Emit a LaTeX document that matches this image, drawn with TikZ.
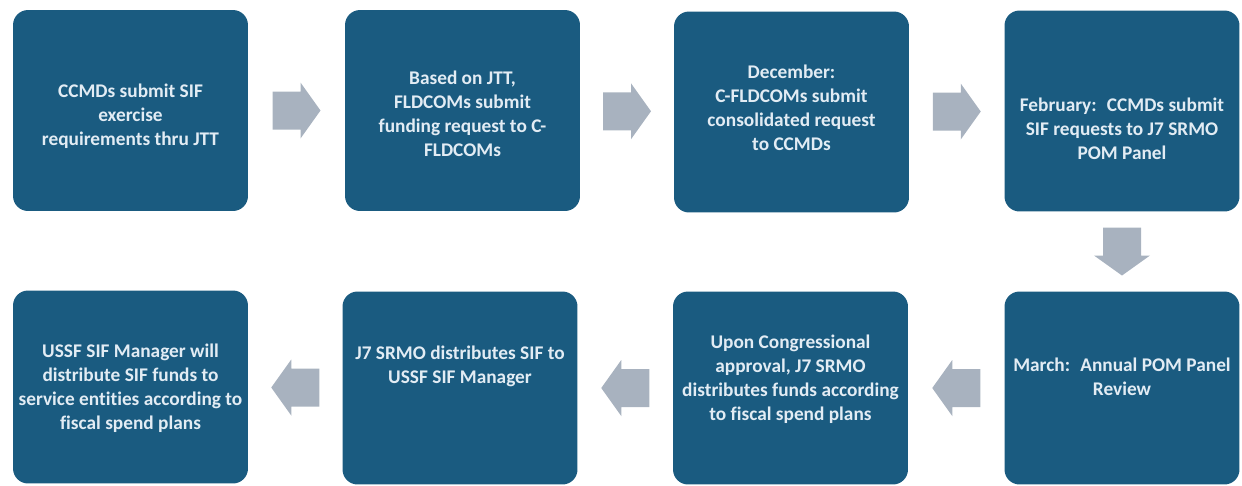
\documentclass[tikz,border=0pt]{standalone}
\usepackage{fontspec}
\setmainfont{Carlito}[Ligatures=NoCommon]
\usepackage{xcolor}
\usetikzlibrary{
    calc,
    positioning
}
\definecolor{boxblue}{RGB}{26,91,128}
\definecolor{arrowgrey}{RGB}{168,178,191}
\definecolor{boxtext}{RGB}{226,236,244}

\tikzset{
    stepbox/.style={rectangle, rounded corners=0.3cm, fill=boxblue, inner sep=0pt,
        minimum width=4.7cm, minimum height=4.02cm},
    lowbox/.style={minimum height=3.86cm},
    steptext/.style={text=boxtext, align=center, inner sep=0pt,
        font=\bfseries\fontsize{11}{13.6}\selectfont},
    blockarr/.pic={
        \fill[arrowgrey] (-24,-19) -- (4,-19) -- (4,-28) -- (24,0)
            -- (4,28) -- (4,19) -- (-24,19) -- cycle;
    }
}

\begin{document}
\begin{tikzpicture}[x=0.02cm, y=0.02cm]
    \useasboundingbox (0,0) rectangle (1242,-485);

    % top row
    \node[stepbox] (s1) at (130.5,-110.5) {};
    \node[stepbox] (s2) at (462.5,-110.5) {};
    \node[stepbox] (s3) at (791.5,-112) {};
    \node[stepbox] (s4) at (1122,-111) {};

    % bottom row
    \node[stepbox, lowbox] (s5) at (1122,-388) {};
    \node[stepbox, lowbox] (s6) at (790.5,-388) {};
    \node[stepbox, lowbox] (s7) at (460,-388) {};
    \node[stepbox, lowbox] (s8) at (130.5,-387) {};

    \node[steptext] (t1) at (130.5,-116) {CCMDs submit SIF\\exercise\\requirements thru JTT};
    \node[steptext] (t2) at (462.5,-114) {Based on JTT,\\FLDCOMs submit\\funding request to C-\\FLDCOMs};
    \node[steptext] (t3) at (791.5,-108) {December:\\C-FLDCOMs submit\\consolidated request\\to CCMDs};
    \node[steptext] (t4) at (1122,-129) {February:~ CCMDs submit\\SIF requests to J7 SRMO\\POM Panel};
    \node[steptext] (t5) at (1122,-377) {March:~ Annual POM Panel\\Review};
    \node[steptext] (t6) at (790.5,-379) {Upon Congressional\\approval, J7 SRMO\\distributes funds according\\to fiscal spend plans};
    \node[steptext] (t7) at (460,-366) {J7 SRMO distributes SIF to\\USSF SIF Manager};
    \node[steptext] (t8) at (130.5,-388) {USSF SIF Manager will\\distribute SIF funds to\\service entities according to\\fiscal spend plans};

    % block arrows between the steps
    \coordinate (a1) at ($(s1.east)!0.5!(s2.west)$);
    \coordinate (a2) at ($(s2.east)!0.5!(s3.west)$);
    \coordinate (a3) at ($(s3.east)!0.5!(s4.west)$);
    \coordinate (a4) at ($(s4.south)!0.5!(s5.north)$);
    \coordinate (a5) at ($(s5.west)!0.5!(s6.east)$);
    \coordinate (a6) at ($(s6.west)!0.5!(s7.east)$);
    \coordinate (a7) at ($(s7.west)!0.5!(s8.east)$);

    \pic at (a1) {blockarr};
    \pic at (a2) {blockarr};
    \pic at (a3) {blockarr};
    \pic[rotate=-90] at (a4) {blockarr};
    \pic[rotate=180] at (a5) {blockarr};
    \pic[rotate=180] at (a6) {blockarr};
    \pic[rotate=180] at (a7) {blockarr};
\end{tikzpicture}
\end{document}
